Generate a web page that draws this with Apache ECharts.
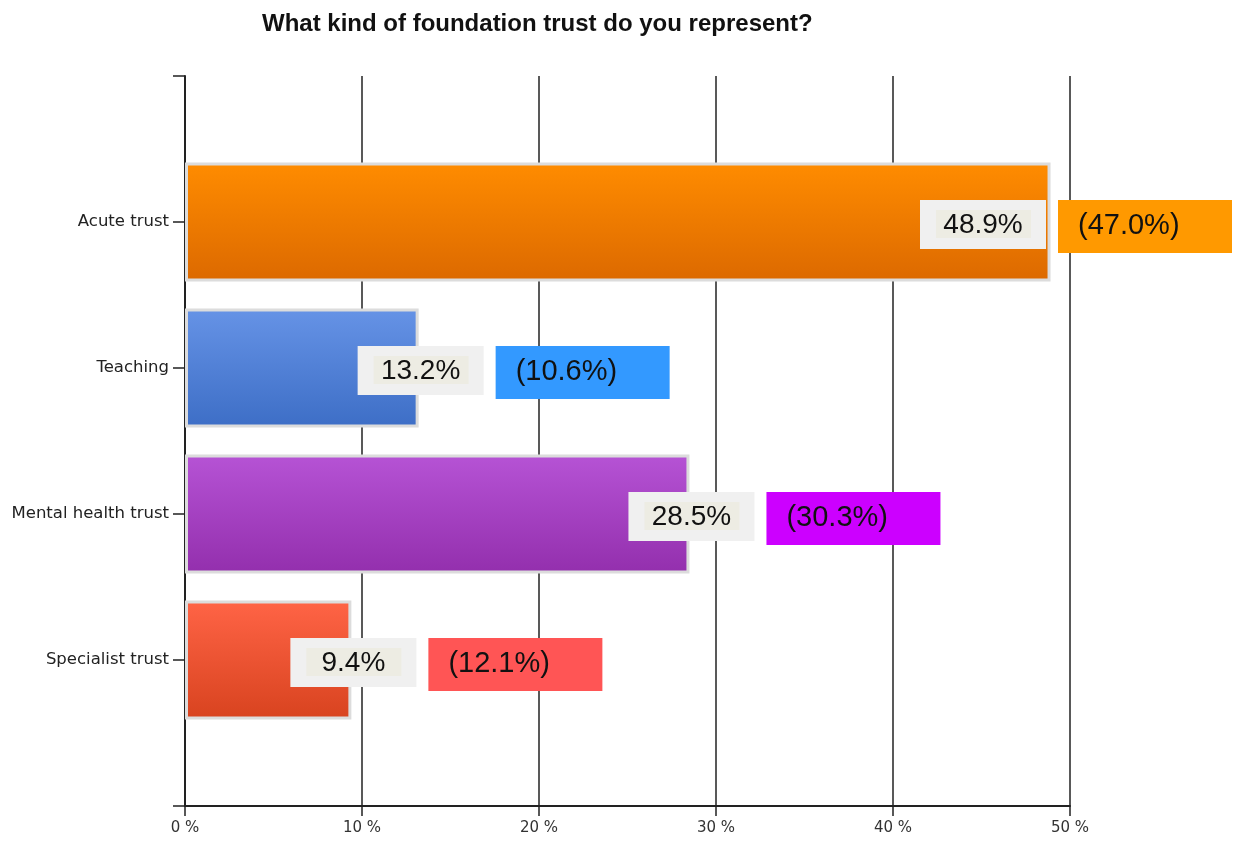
<!DOCTYPE html>
<html>
<head>
<meta charset="utf-8">
<title>What kind of foundation trust do you represent?</title>
<script src="https://cdn.jsdelivr.net/npm/echarts@6/dist/echarts.min.js"></script>
<style>
  html, body { margin: 0; padding: 0; background: #ffffff; }
  #chart { width: 1240px; height: 841px; }
</style>
</head>
<body>
<div id="chart"></div>
<script>
// Survey answers: share of respondents, with the comparison figure in brackets
const categories = ['Acute trust', 'Teaching', 'Mental health trust', 'Specialist trust'];
const shareValues = [48.9, 13.2, 28.5, 9.4];
const comparisonValues = [47.0, 10.6, 30.3, 12.1];
const xTickValues = [0, 10, 20, 30, 40, 50];

// Bar gradients (top, bottom) and the colour of each bracketed box
const barTopColors = ['#ff8c00', '#6693e6', '#b653d5', '#ff6446'];
const barBottomColors = ['#dc6900', '#3d6ec6', '#932fad', '#d8431f'];
const boxColors = ['#ff9900', '#3399ff', '#cc00ff', '#ff5555'];

// Empty slots above and below the four categories keep the spacing of the axis
const axisCategories = [''].concat(categories, ['']);

const barData = [null];
shareValues.forEach(function (v, i) {
  barData.push({
    value: v,
    itemStyle: {
      color: new echarts.graphic.LinearGradient(0, 0, 0, 1, [
        { offset: 0, color: barTopColors[i] },
        { offset: 1, color: barBottomColors[i] }
      ])
    }
  });
});
barData.push(null);

const labelData = shareValues.map(function (v, i) {
  return [v, i + 1, comparisonValues[i], i];
});

const chart = echarts.init(document.getElementById('chart'));
const CHART_W = 1240;

// Value badge (grey) and bracketed comparison badge (coloured) beside each bar end
function renderLabels(params, api) {
  const val = api.value(0);
  const idx = api.value(1);
  const comp = api.value(2);
  const ci = api.value(3);
  const end = api.coord([val, idx]);
  const cy = end[1];
  const grayW = 126, grayH = 49, gap = 12, boxW = 174, boxH = 53;
  const total = grayW + gap + boxW;
  let gx = end[0] - 61;
  if (gx + total > CHART_W - 8) gx = CHART_W - 8 - total;
  const top = cy - 22;
  const fontA = '28px "Liberation Sans", Arial, sans-serif';
  const fontB = '29px "Liberation Sans", Arial, sans-serif';
  return {
    type: 'group',
    children: [
      { type: 'rect', shape: { x: gx, y: top, width: grayW, height: grayH }, style: { fill: '#f0f0f0' } },
      { type: 'rect', shape: { x: gx + 16, y: top + 10, width: 95, height: 28 }, style: { fill: '#edece3' } },
      { type: 'text', x: gx + grayW / 2, y: top + 25,
        style: { text: val.toFixed(1) + '%', font: fontA, fill: '#111111', align: 'center', verticalAlign: 'middle' } },
      { type: 'rect', shape: { x: gx + grayW + gap, y: top, width: boxW, height: boxH }, style: { fill: boxColors[ci] } },
      { type: 'text', x: gx + grayW + gap + 20, y: top + 26,
        style: { text: '(' + comp.toFixed(1) + '%)', font: fontB, fill: '#111111', align: 'left', verticalAlign: 'middle' } }
    ]
  };
}

chart.setOption({
  backgroundColor: '#ffffff',
  animation: false,
  title: {
    text: 'What kind of foundation trust do you represent?',
    left: 257,
    top: 7,
    textStyle: { fontFamily: '"Liberation Sans", Arial, sans-serif', fontWeight: 'bold', fontSize: 24, color: '#111111' }
  },
  grid: { left: 185, right: 170, top: 76, bottom: 35, containLabel: false },
  xAxis: {
    type: 'value',
    min: xTickValues[0],
    max: xTickValues[xTickValues.length - 1],
    interval: xTickValues[1] - xTickValues[0],
    axisLine: { show: true, lineStyle: { color: '#222222', width: 2 } },
    axisTick: { show: true, length: 10, lineStyle: { color: '#222222', width: 1.5 } },
    axisLabel: {
      formatter: '{value} %',
      margin: 15,
      fontFamily: '"DejaVu Sans", sans-serif',
      fontSize: 15,
      color: '#333333'
    },
    splitLine: { show: true, lineStyle: { color: '#222222', width: 1.5 } }
  },
  yAxis: {
    type: 'category',
    data: axisCategories,
    inverse: true,
    boundaryGap: false,
    axisLine: { show: true, lineStyle: { color: '#222222', width: 2 } },
    axisTick: { show: true, length: 12, lineStyle: { color: '#222222', width: 1.5 } },
    axisLabel: {
      margin: 16,
      fontFamily: '"DejaVu Sans", sans-serif',
      fontSize: 16.5,
      color: '#222222'
    },
    splitLine: { show: false }
  },
  series: [
    {
      type: 'bar',
      data: barData,
      barWidth: 119,
      itemStyle: { borderColor: '#dcdcdc', borderWidth: 3 },
      z: 3
    },
    {
      type: 'custom',
      data: labelData,
      encode: { x: 0, y: 1 },
      renderItem: renderLabels,
      clip: false,
      z: 5
    }
  ]
});
</script>
</body>
</html>
